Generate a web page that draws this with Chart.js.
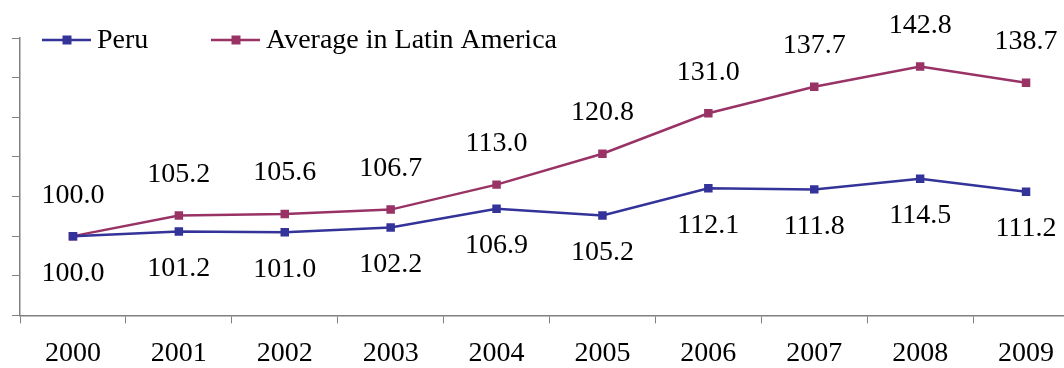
<!DOCTYPE html>
<html>
<head>
<meta charset="utf-8">
<script src="https://cdn.jsdelivr.net/npm/chart.js@4.4.0/dist/chart.umd.min.js"></script>
<style>
  html, body { margin: 0; padding: 0; background: #fff; overflow: hidden; }
  #wrap { width: 1085px; height: 384px; position: relative; }
</style>
</head>
<body>
<div id="wrap"><canvas id="c"></canvas></div>
<script>
// anni e serie
const YEARS = ['2000','2001','2002','2003','2004','2005','2006','2007','2008','2009'];
const PERU = [100.0, 101.2, 101.0, 102.2, 106.9, 105.2, 112.1, 111.8, 114.5, 111.2];
const LATAM = [100.0, 105.2, 105.6, 106.7, 113.0, 120.8, 131.0, 137.7, 142.8, 138.7];

const FONT = '"Liberation Serif", "Times New Roman", serif';
const AXIS = '#808080';

// etichette dei valori: media sopra, Perù sotto
const valueLabels = {
  id: 'valueLabels',
  afterDatasetsDraw(chart) {
    const ctx = chart.ctx;
    ctx.save();
    ctx.font = '28px ' + FONT;
    ctx.fillStyle = '#000';
    ctx.textAlign = 'center';
    ctx.textBaseline = 'middle';
    chart.data.datasets.forEach((ds, i) => {
      const meta = chart.getDatasetMeta(i);
      const dy = i === 0 ? 37 : -41;
      meta.data.forEach((pt, j) => {
        ctx.fillText(ds.data[j].toFixed(1), pt.x, pt.y + dy);
      });
    });
    ctx.restore();
  }
};

// legenda in alto a sinistra
const legendBox = {
  id: 'legendBox',
  afterDraw(chart) {
    const ctx = chart.ctx;
    const xs = [42, 211];
    const y = 40;
    ctx.save();
    ctx.font = '28px ' + FONT;
    ctx.textBaseline = 'middle';
    chart.data.datasets.forEach((ds, i) => {
      const x = xs[i];
      ctx.strokeStyle = ds.borderColor;
      ctx.lineWidth = 2.5;
      ctx.beginPath();
      ctx.moveTo(x, y);
      ctx.lineTo(x + 49, y);
      ctx.stroke();
      ctx.fillStyle = ds.borderColor;
      ctx.fillRect(x + 25 - 4.5, y - 4.5, 9, 9);
      ctx.fillStyle = '#000';
      ctx.fillText(ds.label, x + 55, y + 1);
    });
    ctx.restore();
  }
};

new Chart(document.getElementById('c'), {
  type: 'line',
  data: {
    labels: YEARS,
    datasets: [
      { label: 'Peru', data: PERU, borderColor: '#333399', backgroundColor: '#333399',
        borderWidth: 2.5, pointStyle: 'rect', pointRadius: 6, pointBorderWidth: 0, tension: 0 },
      { label: 'Average in Latin America', data: LATAM, borderColor: '#993366', backgroundColor: '#993366',
        borderWidth: 2.5, pointStyle: 'rect', pointRadius: 6, pointBorderWidth: 0, tension: 0 }
    ]
  },
  options: {
    responsive: true,
    maintainAspectRatio: false,
    animation: false,
    layout: { padding: { left: 12, top: 38, right: 1, bottom: 1 } },
    plugins: { legend: { display: false }, tooltip: { enabled: false } },
    scales: {
      x: {
        offset: true,
        border: { color: AXIS, width: 1.5 },
        grid: { offset: true, drawOnChartArea: false, color: AXIS, tickLength: 8 },
        ticks: { color: '#000', padding: 13, maxRotation: 0, font: { family: FONT, size: 28 } }
      },
      y: {
        min: 80, max: 150,
        border: { color: AXIS, width: 1.5 },
        grid: { drawOnChartArea: false, color: AXIS, tickLength: 8 },
        ticks: { display: false, stepSize: 10 }
      }
    }
  },
  plugins: [valueLabels, legendBox]
});
</script>
</body>
</html>
